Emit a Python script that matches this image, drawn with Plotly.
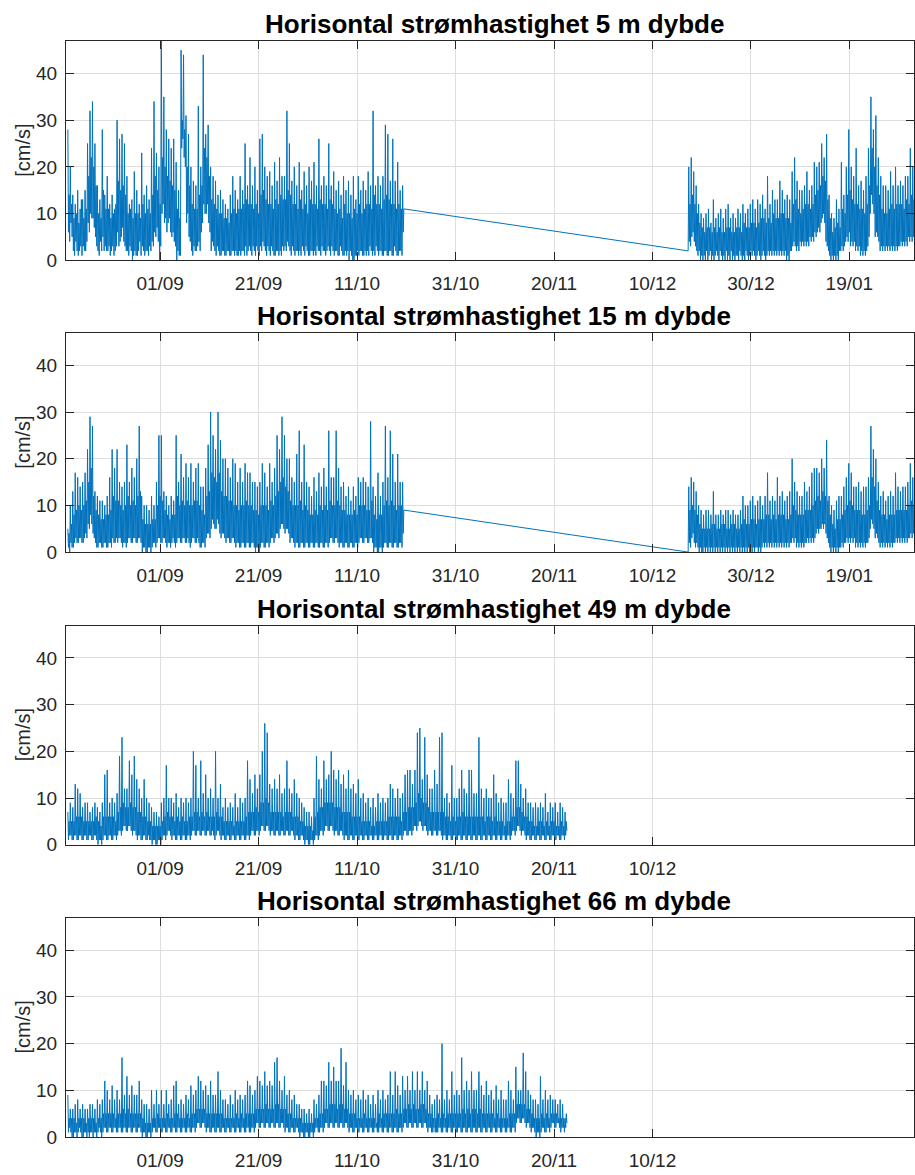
import pandas as pd
import plotly.graph_objects as go

# ---------------- data (3-hourly samples) ----------------
titles = [
    "Horisontal strømhastighet 5 m dybde",
    "Horisontal strømhastighet 15 m dybde",
    "Horisontal strømhastighet 49 m dybde",
    "Horisontal strømhastighet 66 m dybde",
]
y_label = "[cm/s]"

tick_dates_full = ["2019-09-01", "2019-09-21", "2019-10-11", "2019-10-31",
                   "2019-11-20", "2019-12-10", "2019-12-30", "2020-01-19"]
tick_labels_full = ["01/09", "21/09", "11/10", "31/10", "20/11", "10/12", "30/12", "19/01"]
tick_dates_short = tick_dates_full[:6]
tick_labels_short = tick_labels_full[:6]
y_ticks = [0, 10, 20, 30, 40]

start_autumn = "2019-08-13 06:00"
start_winter = "2019-12-17 06:00"
sample_step = "3h"

speed_5m_autumn = [
    28,6,14,4,20,8,12,5, 14,2,9,1,12,4,10,2, 15,1,8,2,11,3,13,1, 13,3,9,2,15,2,11,4, 25,8,18,6,32,10,22,9,
    34,9,20,7,25,5,16,3, 16,2,10,1,13,4,9,2, 28,5,15,2,14,3,11,2, 18,2,11,3,12,1,9,2, 14,3,10,1,11,2,12,3,
    30,6,17,3,26,4,15,5, 27,7,16,4,25,3,14,2, 18,2,10,1,12,3,11,2, 13,0,9,1,19,2,10,1, 15,1,10,2,12,4,9,1,
    23,3,12,2,14,1,10,2, 16,2,11,1,13,3,10,2, 24,4,14,3,34,6,18,5, 23,7,15,4,20,0,12,3, 48,10,22,12,35,8,20,9,
    28,6,18,8,26,9,17,6, 24,5,16,6,26,4,15,3, 21,0,11,2,15,1,9,1, 45,24,30,26,44,22,28,20, 31,8,20,10,27,5,16,4,
    20,2,12,1,17,3,11,2, 16,2,11,3,33,4,14,2, 20,6,16,8,44,12,24,10, 27,10,22,12,29,8,18,6, 20,2,13,4,18,3,12,2,
    17,1,11,3,14,2,10,1, 15,1,10,2,13,2,9,1, 12,1,9,2,11,2,8,1, 14,1,10,2,18,2,11,1, 15,2,10,1,13,1,11,2,
    18,1,11,2,15,2,12,1, 25,3,13,1,16,2,12,3, 22,2,12,1,16,3,11,2, 20,1,12,3,15,2,10,1, 26,3,14,2,27,4,15,3,
    20,2,13,1,18,3,12,2, 19,1,12,3,16,2,11,1, 21,1,13,2,17,2,12,1, 22,2,14,1,18,3,13,2, 18,3,13,2,32,4,15,3,
    25,2,14,1,17,3,12,2, 20,1,12,2,16,2,11,1, 21,2,13,1,15,3,11,2, 19,1,12,3,16,2,10,1, 20,1,13,2,17,2,12,1,
    21,2,12,1,16,3,11,2, 26,2,13,1,16,3,12,2, 18,2,12,1,16,2,11,3, 25,2,13,1,16,3,12,2, 19,1,11,2,15,2,10,1,
    17,1,11,3,14,2,9,1, 18,1,12,2,15,1,10,2, 17,0,10,2,14,1,9,0, 18,0,11,1,13,1,10,2, 18,1,12,2,15,2,10,1,
    17,1,11,2,15,1,12,2, 19,1,12,3,16,2,11,1, 32,2,14,1,16,3,12,2, 18,1,12,2,16,2,11,1, 18,1,13,2,29,2,14,1,
    27,1,13,2,17,2,12,1, 26,1,12,3,17,2,11,1, 21,1,12,2,15,2,11,1, 16,6,11,
]
speed_5m_winter = [
    2,20,4,12,3,22,5,14, 6,19,4,12,3,16,2,10, 1,12,2,8,0,10,1,7, 0,9,1,6,0,10,2,7, 0,11,1,7,2,8,0,6,
    1,13,0,7,1,9,2,6, 1,10,0,7,2,11,1,6, 0,9,1,6,0,11,2,7, 0,12,1,7,0,9,2,6, 0,10,1,6,0,9,1,7,
    1,11,0,7,2,10,1,6, 0,12,1,8,0,10,2,7, 1,11,0,7,1,12,2,8, 1,13,2,8,1,11,0,7, 1,13,2,8,1,12,0,9,
    1,14,2,9,1,11,0,8, 1,18,2,9,1,12,2,8, 1,15,2,10,1,13,2,9, 1,13,2,9,1,17,2,10, 1,15,2,10,1,13,2,9,
    0,14,1,9,0,13,2,8, 2,19,3,12,4,22,3,13, 2,17,3,11,2,15,4,10, 3,15,4,11,3,16,4,12, 3,19,4,12,3,15,5,11,
    4,16,5,12,4,21,6,14, 5,20,6,15,7,21,6,16, 8,25,9,18,10,22,8,17, 4,27,3,13,2,14,1,9, 0,10,1,6,0,9,1,7,
    0,13,1,8,0,11,2,7, 2,21,3,11,2,14,3,10, 4,20,5,14,4,28,6,15, 3,20,4,13,3,18,4,12, 2,24,3,12,2,16,3,11,
    1,17,2,11,1,15,2,10, 1,18,2,12,3,24,5,16, 10,35,14,24,12,28,10,20, 5,31,6,16,5,22,4,14, 2,18,3,11,2,16,3,10,
    2,16,3,10,2,15,3,11, 2,19,3,12,2,16,3,11, 2,20,3,12,2,16,3,12, 3,17,4,12,3,16,4,11, 3,18,4,13,3,18,5,12,
    4,24,5,14,4,20,5,13, 4,22,6,14,8,12,5,10,
]
speed_15m_autumn = [
    5,1,4,0,10,2,6,1, 13,1,8,2,17,3,9,2, 16,2,10,3,14,3,9,2, 15,2,10,3,17,4,11,3, 22,6,15,5,29,8,18,6,
    27,4,12,3,13,2,9,1, 12,1,8,2,11,2,7,1, 11,1,7,2,10,2,8,1, 12,1,8,2,16,2,9,1, 22,3,12,2,18,2,11,3,
    22,2,11,3,15,3,10,2, 14,1,9,2,15,2,10,1, 23,2,12,3,15,3,10,2, 18,2,11,3,16,3,10,2, 20,2,12,3,27,3,13,2,
    12,0,7,1,10,1,6,0, 10,0,6,1,9,1,6,0, 12,1,7,2,10,2,7,1, 15,2,10,3,25,3,12,2, 25,2,11,3,13,3,9,2,
    12,1,8,2,10,2,7,1, 12,2,8,3,11,2,8,1, 25,2,12,3,15,3,10,2, 21,2,11,3,16,3,10,2, 19,2,11,3,16,2,10,1,
    19,2,10,3,15,3,11,2, 18,2,11,3,19,2,10,1, 14,1,9,2,14,2,8,1, 18,3,12,4,23,4,13,3, 30,5,17,7,25,6,16,5,
    22,5,15,7,30,6,17,4, 24,3,13,4,20,4,12,3, 20,2,12,3,18,3,11,2, 16,2,11,3,20,3,10,2, 19,1,10,2,15,2,9,1,
    18,1,10,2,15,2,10,1, 19,1,11,2,17,2,10,1, 17,1,10,2,15,2,9,1, 15,0,9,1,14,1,8,0, 15,1,10,2,19,2,10,1,
    17,1,10,2,14,2,9,1, 19,2,11,3,15,3,10,2, 18,3,12,4,25,4,13,3, 22,5,15,6,29,6,16,5, 25,4,14,5,20,5,13,4,
    20,2,11,3,16,3,10,2, 15,1,10,2,21,2,10,1, 26,1,11,2,15,2,9,1, 23,1,10,2,15,2,9,1, 14,1,8,2,12,2,8,1,
    16,1,9,2,13,2,8,1, 17,1,10,2,14,2,9,1, 18,1,10,2,14,2,9,1, 26,2,11,3,16,3,10,2, 16,2,10,3,26,3,11,2,
    18,1,10,2,14,2,9,1, 15,1,9,2,12,2,8,1, 14,1,8,2,11,2,8,1, 14,1,9,2,12,2,8,1, 16,2,10,3,15,3,10,2,
    16,2,10,3,15,3,9,2, 14,2,9,3,28,3,11,2, 14,0,8,1,12,1,7,0, 17,0,8,1,12,1,8,0, 15,1,10,2,27,2,11,1,
    16,1,10,2,26,2,11,1, 21,1,10,2,15,2,9,1, 21,1,10,2,15,2,10,1, 15,4,9,
]
speed_15m_winter = [
    0,14,2,9,1,16,3,10, 4,15,2,9,1,13,2,8, 1,10,0,6,1,9,0,5, 0,8,1,5,0,9,1,5, 0,9,1,5,0,8,1,6,
    0,13,1,6,0,8,1,5, 0,8,1,5,0,9,1,6, 0,8,1,6,0,9,1,5, 0,9,1,5,0,8,1,6, 0,9,1,6,0,8,1,5,
    0,8,1,5,0,9,1,6, 0,12,1,7,0,10,1,6, 0,10,1,6,0,11,1,7, 0,12,1,7,0,10,1,6, 1,11,0,7,1,12,0,7,
    1,10,2,7,1,12,2,8, 1,17,2,8,1,11,2,7, 1,12,2,8,1,11,2,7, 1,16,2,8,1,12,2,8, 1,13,2,8,1,11,2,7,
    1,12,2,7,1,13,2,8, 2,20,3,10,2,15,3,9, 1,13,2,8,1,12,2,8, 1,12,2,8,1,15,2,9, 2,13,3,9,2,14,3,9,
    2,17,3,10,2,18,3,11, 4,18,5,12,4,17,5,11, 5,20,6,13,5,18,6,12, 4,24,3,11,2,12,1,8, 0,10,1,6,0,9,1,5,
    0,11,1,7,0,12,1,7, 1,12,2,8,1,14,2,9, 2,16,3,10,2,19,3,11, 2,17,3,10,2,14,3,9, 1,14,2,9,1,15,2,9,
    1,13,2,8,1,14,2,8, 1,14,2,9,2,16,3,10, 5,27,7,16,6,22,5,14, 3,20,4,11,3,15,2,9, 1,12,2,8,1,13,2,8,
    1,11,2,7,1,12,2,8, 1,13,2,8,1,12,2,8, 2,17,3,9,2,14,3,9, 2,13,3,9,2,14,3,9, 2,14,3,9,2,15,3,10,
    3,19,4,11,3,16,4,10, 3,18,5,10,4,10,3,8,
]
speed_49m = [
    7,1,5,2,9,2,5,1, 8,1,5,2,13,2,6,1, 12,1,6,2,11,2,6,1, 8,1,5,2,9,2,5,1, 9,1,5,2,7,2,5,1,
    8,1,5,2,9,2,6,1, 8,0,5,1,7,1,4,0, 9,1,6,2,15,2,6,1, 16,1,6,2,9,2,6,1, 10,1,6,2,9,2,5,1,
    11,2,7,3,19,3,8,2, 23,3,9,4,12,4,8,3, 12,3,8,4,18,4,9,3, 15,2,8,3,19,3,8,2, 14,1,7,2,12,2,7,1,
    10,1,6,2,14,2,6,1, 10,1,5,2,9,1,5,1, 8,0,4,1,7,1,4,0, 7,0,4,1,6,1,4,0, 9,1,5,2,10,2,6,1,
    17,2,7,3,10,3,6,2, 10,1,6,2,9,2,5,1, 11,1,6,2,8,2,5,1, 10,1,6,2,9,2,5,1, 10,1,5,2,9,2,6,1,
    10,2,6,3,20,3,7,2, 17,2,7,3,10,3,6,2, 18,2,7,3,11,3,6,2, 15,2,7,3,10,3,6,2, 12,2,6,3,10,2,6,1,
    20,2,7,3,10,3,6,2, 13,1,6,2,8,2,5,1, 10,1,5,2,8,2,5,1, 9,1,5,2,8,2,4,1, 11,1,5,2,8,2,5,1,
    10,1,5,2,9,2,5,1, 10,1,6,2,18,2,7,1, 14,2,7,3,11,3,7,2, 15,2,8,3,12,3,7,2, 15,3,9,4,20,4,9,3,
    26,3,10,4,24,4,9,3, 13,2,7,3,12,3,7,2, 14,2,7,3,12,3,7,2, 15,2,7,3,11,3,6,2, 12,2,7,3,18,3,7,2,
    12,2,7,3,11,3,6,2, 14,1,6,2,11,2,6,1, 10,1,5,2,9,2,5,1, 8,0,4,1,7,1,4,0, 7,0,4,1,6,1,3,0,
    10,1,6,2,19,2,7,1, 14,2,8,3,12,3,8,2, 18,3,9,4,14,4,9,3, 15,3,9,4,20,4,9,3, 16,2,8,3,14,3,8,2,
    16,2,8,3,13,3,7,2, 15,1,7,2,12,2,7,1, 16,1,7,2,12,2,6,1, 13,1,6,2,11,2,6,1, 14,1,6,2,10,2,5,1,
    11,1,5,2,9,2,5,1, 10,1,5,2,8,2,4,1, 10,1,4,2,8,2,5,1, 11,1,5,2,9,2,5,1, 10,1,5,2,9,2,5,1,
    10,1,6,2,13,2,6,1, 12,1,6,2,10,2,6,1, 12,1,6,2,10,2,5,1, 11,2,7,3,15,3,7,2, 16,2,8,3,16,3,8,2,
    13,3,8,4,16,4,9,3, 24,4,11,5,25,5,10,4, 14,3,9,4,23,4,9,3, 15,2,8,3,12,3,7,2, 12,2,7,3,16,3,7,2,
    13,2,7,3,23,3,7,2, 24,1,7,2,10,2,6,1, 11,1,6,2,9,2,5,1, 17,1,6,2,10,2,5,1, 10,1,6,2,12,2,6,1,
    16,1,7,2,12,2,6,1, 11,1,6,2,16,2,6,1, 16,1,6,2,11,2,6,1, 11,1,6,2,23,2,6,1, 12,1,6,2,10,2,5,1,
    12,1,6,2,10,2,6,1, 10,1,5,2,15,2,6,1, 11,1,5,2,9,2,5,1, 10,1,5,2,9,2,4,1, 9,1,5,2,14,2,5,1,
    11,2,6,3,10,3,6,2, 18,3,8,4,18,4,8,3, 13,2,7,3,10,3,6,2, 12,1,6,2,9,2,5,1, 9,1,5,2,8,2,4,1,
    9,1,4,2,8,2,5,1, 9,1,5,2,8,2,4,1, 11,1,5,2,7,2,4,1, 9,1,5,2,8,2,5,1, 9,1,4,2,7,2,4,1,
    9,1,5,2,8,2,4,1, 7,2,5,3,
]
speed_66m = [
    9,1,4,2,6,1,4,0, 6,0,4,1,7,1,3,0, 8,1,4,2,6,1,4,0, 7,0,4,1,6,1,3,0, 6,1,4,0,7,1,4,1,
    7,0,4,1,6,1,3,0, 8,1,4,2,7,1,4,0, 8,1,5,2,12,2,5,1, 10,1,5,2,8,2,5,1, 11,1,5,2,8,2,4,1,
    10,1,5,2,8,2,5,1, 17,1,6,2,9,2,5,1, 13,1,6,2,9,2,5,1, 11,1,5,2,9,2,5,1, 9,1,5,2,12,2,5,1,
    8,0,4,1,7,1,3,0, 7,0,3,1,6,1,3,0, 10,1,4,2,7,2,4,1, 10,1,5,2,7,2,4,1, 10,1,4,2,7,2,4,1,
    10,1,5,2,7,2,4,1, 8,1,4,2,11,2,5,1, 12,1,5,2,7,2,4,1, 8,1,4,2,7,2,4,1, 9,1,5,2,8,2,4,1,
    11,1,5,2,9,2,5,1, 10,2,6,3,13,3,6,2, 12,2,6,3,10,3,6,2, 11,1,5,2,9,2,5,1, 12,1,5,2,9,2,5,1,
    9,1,5,2,14,2,5,1, 10,1,5,2,8,2,4,1, 8,1,4,2,7,2,4,1, 9,1,4,2,7,2,4,1, 10,1,5,2,8,2,4,1,
    9,1,5,2,8,2,4,1, 9,1,5,2,12,2,5,1, 11,1,5,2,9,2,5,1, 10,2,6,3,13,3,6,2, 12,2,6,3,11,3,6,2,
    14,2,7,3,11,3,6,2, 12,2,6,3,11,3,6,2, 16,2,7,3,17,3,7,2, 12,2,6,3,10,3,6,2, 13,1,6,2,9,2,5,1,
    10,1,5,2,8,2,4,1, 9,1,4,2,7,2,4,1, 7,0,4,1,6,1,3,0, 6,0,3,1,5,1,3,0, 6,0,3,1,5,1,3,0,
    8,1,4,2,7,2,4,1, 9,1,5,2,12,2,5,1, 12,2,6,3,11,3,6,2, 16,2,7,3,12,3,7,2, 15,2,7,3,12,3,6,2,
    12,2,7,3,19,3,7,2, 11,2,6,3,16,3,6,2, 10,1,5,2,9,2,5,1, 10,1,5,2,8,2,4,1, 9,1,4,2,8,2,4,1,
    10,1,5,2,8,2,4,1, 9,1,4,2,7,2,4,1, 9,1,4,2,7,2,3,1, 10,1,5,2,8,2,4,1, 10,1,5,2,8,2,5,1,
    9,1,5,2,14,2,5,1, 9,1,5,2,14,2,6,1, 11,1,5,2,9,2,5,1, 13,2,6,3,10,3,6,2, 13,2,7,3,10,3,6,2,
    14,2,7,3,10,3,6,2, 14,2,6,3,10,3,7,2, 14,2,7,3,10,3,6,2, 12,1,5,2,9,2,5,1, 7,1,4,2,8,1,4,1,
    9,1,5,2,8,2,4,1, 20,1,5,2,8,2,4,1, 10,1,5,2,8,2,5,1, 14,1,5,2,9,2,5,1, 10,1,5,2,9,2,5,1,
    17,1,6,2,10,2,5,1, 12,1,6,2,10,2,5,1, 14,1,6,2,10,2,6,1, 10,1,5,2,14,2,6,1, 11,1,5,2,9,2,5,1,
    12,1,5,2,9,2,5,1, 10,1,5,2,8,2,4,1, 11,1,5,2,8,2,4,1, 10,1,4,2,8,2,4,1, 8,1,4,2,12,2,5,1,
    10,1,5,2,8,2,5,1, 15,3,7,4,10,4,7,3, 10,3,7,4,18,4,7,3, 14,2,6,3,10,3,6,2, 9,1,5,2,8,2,4,1,
    8,0,4,1,7,1,4,0, 13,1,5,2,8,2,4,1, 10,1,5,2,8,2,4,1, 9,2,5,3,8,3,5,2, 8,2,5,3,7,3,4,2,
    8,1,4,2,7,2,4,1, 4,2,5,3,
]

# ---------------- styling / layout ----------------
W, H = 915, 1175
FONT = "Liberation Sans, Arial, Helvetica, sans-serif"
LINE_COLOR = "#0072BD"
AXIS_COLOR = "#262626"
GRID_COLOR = "#dedede"
X_RANGE = ["2019-08-12 21:00", "2020-02-01 03:00"]
Y_RANGE = [0, 46.9]
M_LEFT = 66
PANEL_TOPS = [41.7, 336.3, 631.7, 926.7]
PANEL_H = 221.0


def times(start, n):
    return list(pd.date_range(start, periods=n, freq=sample_step))


series = [
    (times(start_autumn, len(speed_5m_autumn)) + times(start_winter, len(speed_5m_winter)),
     speed_5m_autumn + speed_5m_winter),
    (times(start_autumn, len(speed_15m_autumn)) + times(start_winter, len(speed_15m_winter)),
     speed_15m_autumn + speed_15m_winter),
    (times(start_autumn, len(speed_49m)), speed_49m),
    (times(start_autumn, len(speed_66m)), speed_66m),
]

fig = go.Figure()
annotations = []
plot_w = W - M_LEFT

for i, (xs, ys) in enumerate(series):
    n = "" if i == 0 else str(i + 1)
    fig.add_trace(go.Scatter(
        x=xs, y=ys, mode="lines",
        line=dict(color=LINE_COLOR, width=1, simplify=False),
        xaxis="x" + n, yaxis="y" + n, showlegend=False, hoverinfo="skip",
    ))
    top = PANEL_TOPS[i]
    bot = top + PANEL_H
    dom = [1 - bot / H, 1 - top / H]
    full = i < 2
    common = dict(
        showline=True, linecolor=AXIS_COLOR, linewidth=1, mirror="ticks",
        ticks="inside", ticklen=8, tickcolor=AXIS_COLOR, tickwidth=1,
        showgrid=True, gridcolor=GRID_COLOR, gridwidth=1, zeroline=False,
        tickfont=dict(family=FONT, size=19, color=AXIS_COLOR),
    )
    fig.update_layout(**{
        "xaxis" + n: dict(
            domain=[0, 1], range=X_RANGE, type="date", anchor="y" + n,
            tickmode="array",
            tickvals=tick_dates_full if full else tick_dates_short,
            ticktext=tick_labels_full if full else tick_labels_short,
            ticklabelstandoff=6,
            **common,
        ),
        "yaxis" + n: dict(
            domain=dom, range=Y_RANGE, anchor="x" + n,
            tickmode="array", tickvals=y_ticks, ticktext=[str(v) for v in y_ticks],
            ticklabelstandoff=4,
            **common,
        ),
    })
    annotations.append(dict(
        text="<b>" + titles[i] + "</b>", xref="paper", yref="paper",
        x=(495 - M_LEFT) / plot_w, y=1 - (top - 17) / H,
        xanchor="center", yanchor="middle", showarrow=False,
        font=dict(family=FONT, size=26, color="#000000"),
    ))
    annotations.append(dict(
        text=y_label, xref="paper", yref="paper",
        x=(23 - M_LEFT) / plot_w, y=1 - (top + PANEL_H / 2) / H,
        xanchor="center", yanchor="middle", textangle=-90, showarrow=False,
        font=dict(family=FONT, size=20, color=AXIS_COLOR),
    ))

fig.update_layout(
    width=W, height=H,
    margin=dict(l=M_LEFT, r=0, t=0, b=0),
    paper_bgcolor="white", plot_bgcolor="white",
    annotations=annotations,
    showlegend=False,
)

fig.write_html(
    "out.html",
    config={"displayModeBar": False, "staticPlot": True},
    post_script="document.body.style.margin='0';document.body.style.overflow='hidden';",
)
